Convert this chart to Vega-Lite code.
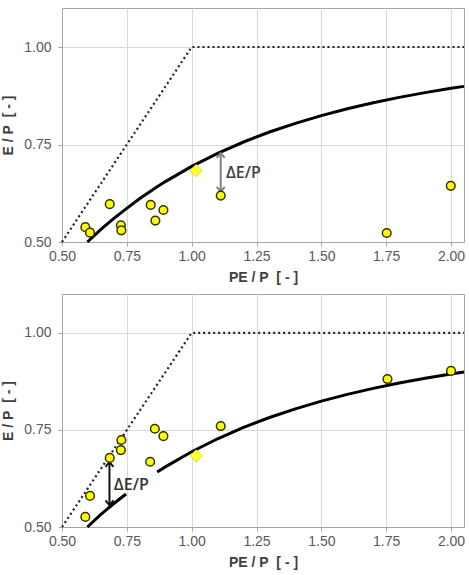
{
  "$schema": "https://vega.github.io/schema/vega-lite/v6.json",
  "padding": {"left": 1, "top": 7, "right": 5, "bottom": 0},
  "spacing": 8,
  "datasets": {
    "bound": [
      {"x": 0.5, "y": 0.5},
      {"x": 1.0, "y": 1.0},
      {"x": 2.05, "y": 1.0}
    ],
    "curve": [
      {"x": 0.598, "y": 0.5, "seg": "a"},
      {"x": 0.65, "y": 0.5323, "seg": "a"},
      {"x": 0.7, "y": 0.5605, "seg": "a"},
      {"x": 0.747, "y": 0.585, "seg": "a"},
      {"x": 0.8, "y": 0.6113, "seg": "m"},
      {"x": 0.867, "y": 0.6415, "seg": "b"},
      {"x": 0.9, "y": 0.6555, "seg": "b"},
      {"x": 1.0, "y": 0.6938, "seg": "b"},
      {"x": 1.1, "y": 0.7272, "seg": "b"},
      {"x": 1.2, "y": 0.7564, "seg": "b"},
      {"x": 1.3, "y": 0.782, "seg": "b"},
      {"x": 1.4, "y": 0.8043, "seg": "b"},
      {"x": 1.5, "y": 0.8241, "seg": "b"},
      {"x": 1.6, "y": 0.8415, "seg": "b"},
      {"x": 1.7, "y": 0.857, "seg": "b"},
      {"x": 1.8, "y": 0.8708, "seg": "b"},
      {"x": 1.9, "y": 0.883, "seg": "b"},
      {"x": 2.0, "y": 0.894, "seg": "b"},
      {"x": 2.05, "y": 0.899, "seg": "b"}
    ],
    "ptsTop": [
      {"x": 0.59, "y": 0.538},
      {"x": 0.608, "y": 0.524},
      {"x": 0.684, "y": 0.597},
      {"x": 0.727, "y": 0.543},
      {"x": 0.729, "y": 0.53},
      {"x": 0.842, "y": 0.595},
      {"x": 0.891, "y": 0.582},
      {"x": 0.86, "y": 0.555},
      {"x": 1.112, "y": 0.619},
      {"x": 1.752, "y": 0.523},
      {"x": 1.999, "y": 0.644}
    ],
    "ptsBottom": [
      {"x": 0.59, "y": 0.526},
      {"x": 0.608, "y": 0.58},
      {"x": 0.684, "y": 0.678},
      {"x": 0.727, "y": 0.698},
      {"x": 0.729, "y": 0.724},
      {"x": 0.84, "y": 0.668},
      {"x": 0.858, "y": 0.753},
      {"x": 0.891, "y": 0.734},
      {"x": 1.112, "y": 0.76},
      {"x": 1.755, "y": 0.881},
      {"x": 2.0, "y": 0.902}
    ],
    "diamond": [{"x": 1.017, "y": 0.683}],
    "arrowTop": [{"x": 1.112, "y": 0.629, "y2": 0.728, "lx": 1.132, "ly": 0.678, "label": "ΔE/P"}],
    "arrowBottom": [{"x": 0.683, "y": 0.556, "y2": 0.667, "lx": 0.7, "ly": 0.609, "label": "ΔE/P"}]
  },
  "config": {
    "view": {"stroke": "#a6a6a6", "strokeWidth": 1},
    "axis": {
      "labelFont": "Liberation Sans",
      "labelFontSize": 14,
      "labelColor": "#595959",
      "labelFlush": false,
      "labelOverlap": false,
      "titleFont": "Liberation Sans",
      "titleFontSize": 14,
      "titleFontWeight": "bold",
      "titleColor": "#404040",
      "gridColor": "#d9d9d9",
      "gridWidth": 1,
      "domainColor": "#a6a6a6",
      "tickColor": "#a6a6a6",
      "tickSize": 4
    }
  },
  "vconcat": [
    {
      "width": 402,
      "height": 234,
      "encoding": {
        "x": {"field": "x", "type": "quantitative", "scale": {"domain": [0.5, 2.05], "nice": false, "zero": false},
          "axis": {"title": "PE / P\u00a0 [ - ]", "values": [0.5, 0.75, 1.0, 1.25, 1.5, 1.75, 2.0], "format": ".2f", "labelPadding": 3, "titlePadding": 7}},
        "y": {"field": "y", "type": "quantitative", "scale": {"domain": [0.5, 1.1], "nice": false, "zero": false},
          "axis": {"title": "E / P\u00a0 [ - ]", "values": [0.5, 0.75, 1.0], "format": ".2f", "labelPadding": 7, "titlePadding": 8}}
      },
      "layer": [
        {"data": {"name": "bound"}, "mark": {"type": "line", "color": "#222", "strokeWidth": 2.2, "strokeDash": [2, 3]}},
        {"data": {"name": "curve"}, "mark": {"type": "line", "color": "#000", "strokeWidth": 3}},
        {"data": {"name": "arrowTop"}, "mark": {"type": "rule", "color": "#808080", "strokeWidth": 2}, "encoding": {"y2": {"field": "y2"}}},
        {"data": {"name": "arrowTop"}, "mark": {"type": "point", "shape": "M-1,1.2L0,0L1,1.2", "filled": false, "color": "#808080", "strokeWidth": 2, "size": 64, "opacity": 1}, "encoding": {"y": {"field": "y2", "type": "quantitative"}}},
        {"data": {"name": "arrowTop"}, "mark": {"type": "point", "shape": "M-1,-1.2L0,0L1,-1.2", "filled": false, "color": "#808080", "strokeWidth": 2, "size": 64, "opacity": 1}},
        {"data": {"name": "arrowTop"}, "mark": {"type": "text", "font": "Open Sans", "fontWeight": 600, "fontSize": 16, "color": "#404040", "align": "left", "baseline": "middle"},
          "encoding": {"x": {"field": "lx", "type": "quantitative"}, "y": {"field": "ly", "type": "quantitative"}, "text": {"field": "label"}}},
        {"data": {"name": "ptsTop"}, "mark": {"type": "point", "shape": "circle", "filled": true, "fill": "#ffff00", "stroke": "#333300", "strokeWidth": 1.5, "size": 75, "opacity": 1}},
        {"data": {"name": "diamond"}, "mark": {"type": "point", "shape": "diamond", "filled": true, "fill": "#ffff33", "stroke": "#e6e600", "strokeWidth": 1, "size": 150, "opacity": 1}}
      ]
    },
    {
      "width": 402,
      "height": 233,
      "encoding": {
        "x": {"field": "x", "type": "quantitative", "scale": {"domain": [0.5, 2.05], "nice": false, "zero": false},
          "axis": {"title": "PE / P\u00a0 [ - ]", "values": [0.5, 0.75, 1.0, 1.25, 1.5, 1.75, 2.0], "format": ".2f", "labelPadding": 3, "titlePadding": 7}},
        "y": {"field": "y", "type": "quantitative", "scale": {"domain": [0.5, 1.1], "nice": false, "zero": false},
          "axis": {"title": "E / P\u00a0 [ - ]", "values": [0.5, 0.75, 1.0], "format": ".2f", "labelPadding": 7, "titlePadding": 8}}
      },
      "layer": [
        {"data": {"name": "bound"}, "mark": {"type": "line", "color": "#222", "strokeWidth": 2.2, "strokeDash": [2, 3]}},
        {"data": {"name": "curve"}, "transform": [{"filter": "datum.seg != 'm'"}], "mark": {"type": "line", "color": "#000", "strokeWidth": 3}, "encoding": {"detail": {"field": "seg"}}},
        {"data": {"name": "arrowBottom"}, "mark": {"type": "rule", "color": "#111", "strokeWidth": 2}, "encoding": {"y2": {"field": "y2"}}},
        {"data": {"name": "arrowBottom"}, "mark": {"type": "point", "shape": "M-1,1.2L0,0L1,1.2", "filled": false, "color": "#111", "strokeWidth": 2, "size": 64, "opacity": 1}, "encoding": {"y": {"field": "y2", "type": "quantitative"}}},
        {"data": {"name": "arrowBottom"}, "mark": {"type": "point", "shape": "M-1,-1.2L0,0L1,-1.2", "filled": false, "color": "#111", "strokeWidth": 2, "size": 64, "opacity": 1}},
        {"data": {"name": "arrowBottom"}, "mark": {"type": "text", "font": "Open Sans", "fontWeight": 600, "fontSize": 16, "color": "#333333", "align": "left", "baseline": "middle"},
          "encoding": {"x": {"field": "lx", "type": "quantitative"}, "y": {"field": "ly", "type": "quantitative"}, "text": {"field": "label"}}},
        {"data": {"name": "ptsBottom"}, "mark": {"type": "point", "shape": "circle", "filled": true, "fill": "#ffff00", "stroke": "#333300", "strokeWidth": 1.5, "size": 75, "opacity": 1}},
        {"data": {"name": "diamond"}, "mark": {"type": "point", "shape": "diamond", "filled": true, "fill": "#ffff33", "stroke": "#e6e600", "strokeWidth": 1, "size": 150, "opacity": 1}}
      ]
    }
  ]
}
